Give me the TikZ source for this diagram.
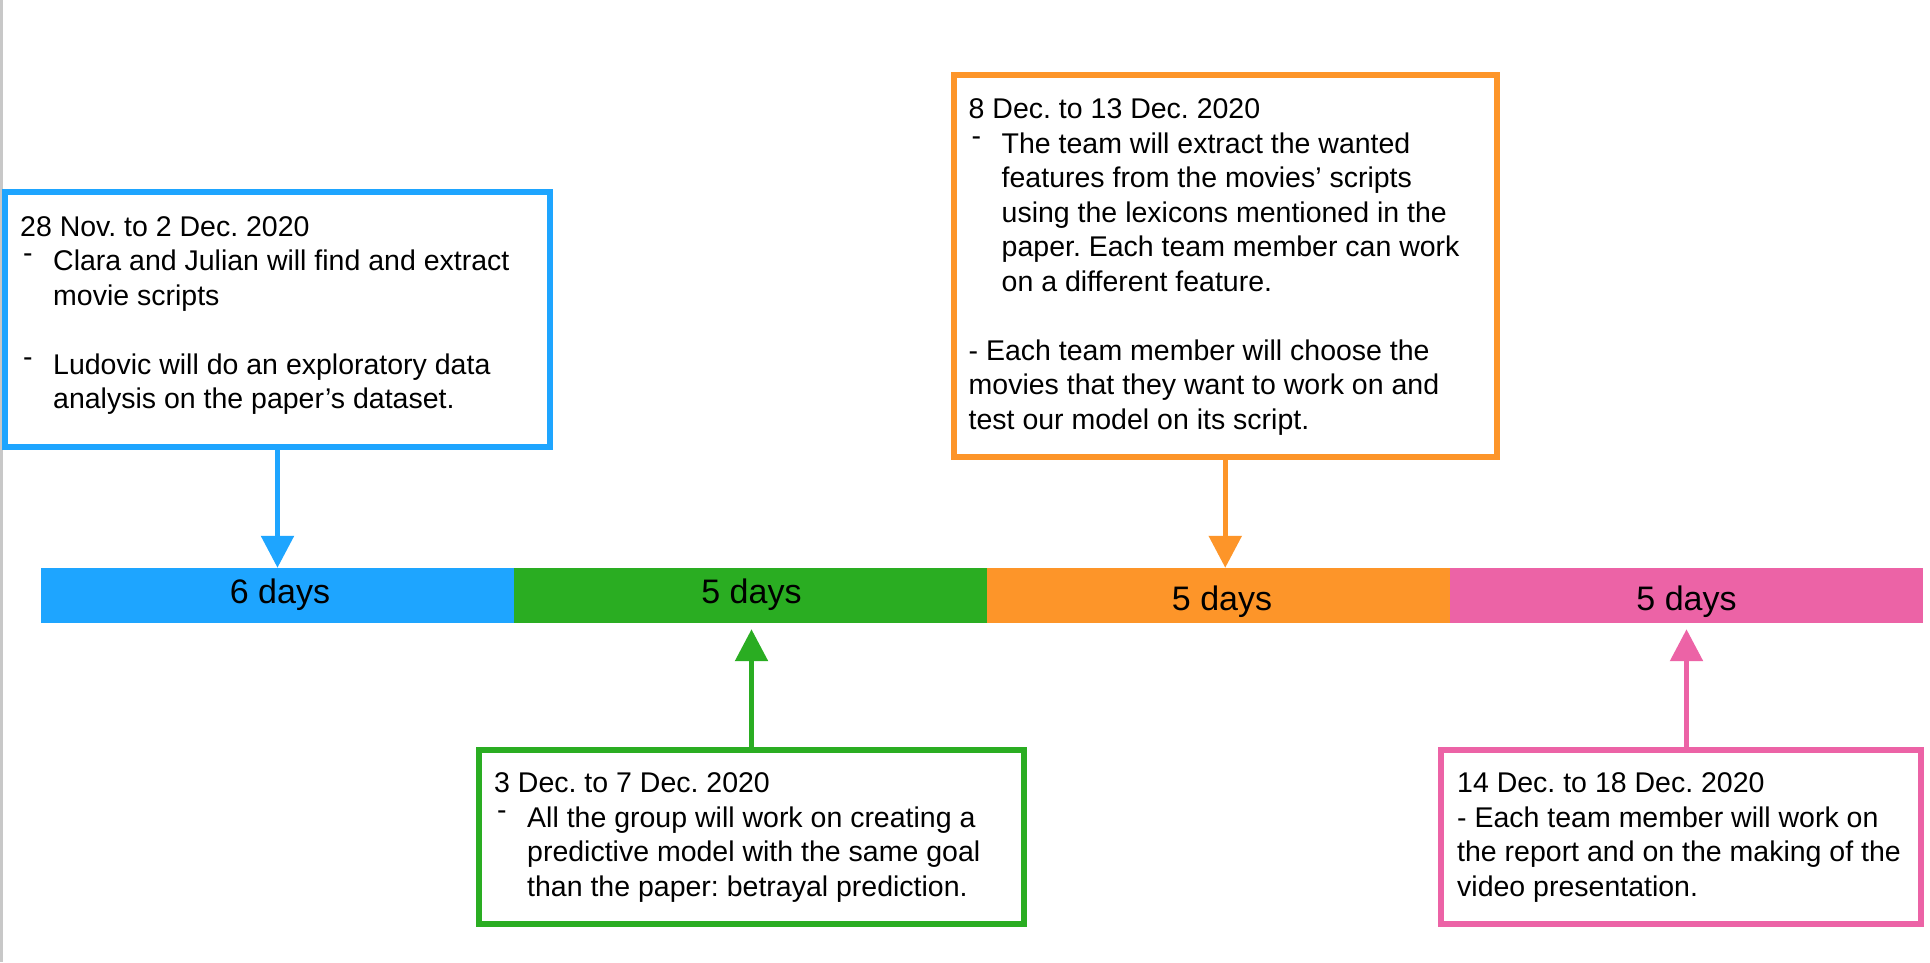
\documentclass[tikz,border=0pt]{standalone}
\usepackage{fontspec}
\setmainfont{Liberation Sans}
\usetikzlibrary{arrows.meta}
\definecolor{cblue}{RGB}{30,165,255}
\definecolor{cgreen}{RGB}{42,173,34}
\definecolor{corange}{RGB}{253,149,41}
\definecolor{cpink}{RGB}{236,99,166}
\definecolor{cedge}{RGB}{200,200,200}
\newcommand{\bul}{\makebox[33pt][l]{\hspace{3pt}\raisebox{0.28em}{-}}}
\newcommand{\ind}{\hspace*{33pt}}
\frenchspacing
\begin{document}
\begin{tikzpicture}[x=1pt,y=-1pt,
  box/.style={rectangle,draw,line width=6pt,fill=white,inner sep=0pt},
  seg/.style={rectangle,fill,inner sep=0pt,minimum height=55pt},
  txt/.style={anchor=base west,inner sep=0pt,font=\fontsize{28.5}{34.5}\selectfont},
  daylab/.style={anchor=base,inner sep=0pt,font=\fontsize{34}{40}\selectfont},
  conn/.style={line width=5.5pt,-{Triangle[width=32pt,length=32pt]}}]
\useasboundingbox (0,0) rectangle (1930,962);
\fill[white] (0,0) rectangle (1930,962);
\fill[cedge] (0,0) rectangle (2.5,962);

% timeline
\node[seg,fill=cblue,minimum width=473pt] (s1) at (277.5,595.5) {};
\node[seg,fill=cgreen,minimum width=473pt] (s2) at (750.5,595.5) {};
\node[seg,fill=corange,minimum width=463pt] (s3) at (1218.5,595.5) {};
\node[seg,fill=cpink,minimum width=473pt] (s4) at (1686.5,595.5) {};
\node[daylab] (d1) at (280,603) {6 days};
\node[daylab] (d2) at (751.5,603) {5 days};
\node[daylab] (d3) at (1222,610.5) {5 days};
\node[daylab] (d4) at (1686.5,610.5) {5 days};

% boxes
\node[box,draw=cblue,minimum width=545pt,minimum height=255pt] (b1) at (277.5,319.5) {};
\node[box,draw=corange,minimum width=543.5pt,minimum height=382.5pt] (b3) at (1225.25,265.75) {};
\node[box,draw=cgreen,minimum width=545pt,minimum height=174pt] (b2) at (751.5,837) {};
\node[box,draw=cpink,minimum width=480pt,minimum height=174pt] (b4) at (1681,837) {};

% texts
\node[txt] (t1) at (20,236) {\parbox[t]{520pt}{%
28 Nov. to 2 Dec. 2020\\
\bul Clara and Julian will find and extract\\
\ind movie scripts\\[34.5pt]
\bul Ludovic will do an exploratory data\\
\ind analysis on the paper’s dataset.}};
\node[txt] (t3) at (968.5,118.5) {\parbox[t]{520pt}{%
8 Dec. to 13 Dec. 2020\\
\bul The team will extract the wanted\\
\ind features from the movies’ scripts\\
\ind using the lexicons mentioned in the\\
\ind paper. Each team member can work\\
\ind on a different feature.\\[34.5pt]
- Each team member will choose the\\
movies that they want to work on and\\
test our model on its script.}};
\node[txt] (t2) at (494,792.7) {\parbox[t]{520pt}{%
3 Dec. to 7 Dec. 2020\\
\bul All the group will work on creating a\\
\ind predictive model with the same goal\\
\ind than the paper: betrayal prediction.}};
\node[txt] (t4) at (1457,792.7) {\parbox[t]{460pt}{%
14 Dec. to 18 Dec. 2020\\
- Each team member will work on\\
the report and on the making of the\\
video presentation.}};

% connectors
\draw[conn,cblue] (b1.south) -- (b1.south |- s1.north);
\draw[conn,corange] (b3.south) -- (b3.south |- s3.north);
\draw[conn,cgreen,shorten >=6pt] (b2.north) -- (b2.north |- s2.south);
\draw[conn,cpink,shorten >=6pt] (b4.north -| s4.south) -- (s4.south);
\end{tikzpicture}
\end{document}
